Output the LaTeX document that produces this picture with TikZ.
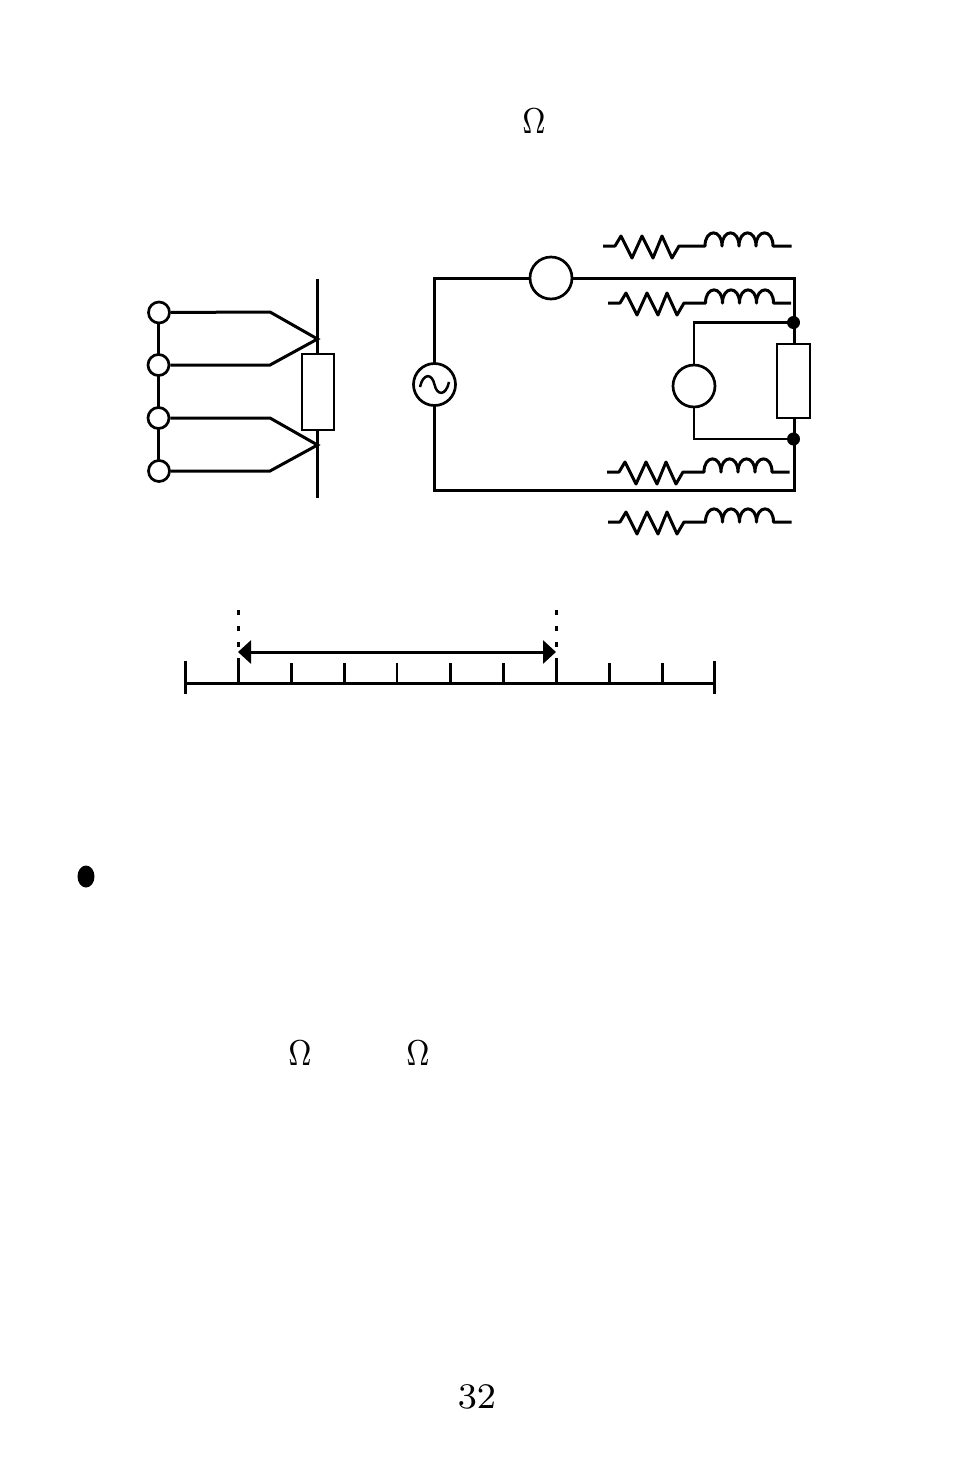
\documentclass[tikz,border=0pt]{standalone}
\usepackage{graphicx}
\usetikzlibrary{arrows.meta}
\font\lblfont=cmr8 at 18pt
\tikzset{
  x=0.5pt,y=-0.5pt,
  wire/.style={line width=1.5pt,line cap=butt,line join=miter,color=black},
  thinwire/.style={line width=1.25pt,color=black},
  term/.style={circle,draw=black,fill=white,line width=1.35pt,minimum size=10.5pt,inner sep=0pt},
  meter/.style={circle,draw=black,fill=white,line width=1.35pt,minimum size=21pt,inner sep=0pt},
  box/.style={rectangle,draw=black,fill=white,line width=1.35pt,inner sep=0pt},
  jdot/.style={circle,fill=black,minimum size=6.5pt,inner sep=0pt},
  label/.style={inner sep=0pt,font=\lblfont},
}
\newcommand{\omegaglyph}{\scalebox{.84}[1]{\char10}}
% #1 x of start, #2 y, #3 x where the coil begins, #4 x of free end
\newcommand{\rlcoil}[4]{%
  \draw[wire,line join=round,shift={(#1,#2)}] (0,0) -- (12,0) -- (18,-10) -- (29,12) -- (39,-10) -- (50,12) -- (59,-10) -- (69,12) -- (76,0) -- (#3,0)
    .. controls +(0,-17.5) and +(0,-17.5) .. ++(17,0)
    .. controls +(0,-17.5) and +(0,-17.5) .. ++(17,0)
    .. controls +(0,-17.5) and +(0,-17.5) .. ++(17,0)
    .. controls +(0,-17.5) and +(0,-17.5) .. ++(17,0) -- (#4,0);}
\begin{document}
\begin{tikzpicture}
\useasboundingbox (0,0) rectangle (954,1484);
% texts
\node[label] (om1) at (534,121) {\omegaglyph};
\node[label] (om2) at (300,1053) {\omegaglyph};
\node[label] (om3) at (418,1053) {\omegaglyph};
\node[label] (pg) at (477,1397) {32};
\fill (86,876.5) ellipse [x radius=8.5,y radius=11];
% left figure
\coordinate (a1) at (270,312);
\coordinate (a2) at (270,365);
\coordinate (a3) at (270,418);
\coordinate (a4) at (270,471);
\coordinate (p1) at (317.5,339);
\coordinate (p2) at (317.5,445);
\coordinate (bt) at (317.5,279);
\coordinate (bb) at (317.5,498);
\draw[wire] (158.5,312) -- (158.5,471);
\node[term] (t1) at (159,312.5) {};
\node[term] (t2) at (158.5,365) {};
\node[term] (t3) at (158.5,418) {};
\node[term] (t4) at (159,471) {};
\draw[wire] (t1) -- (a1) -- (p1) -- (a2) -- (t2);
\draw[wire] (t3) -- (a3) -- (p2) -- (a4) -- (t4);
\draw[wire] (bt) -- (bb);
\node[box,minimum width=16pt,minimum height=38pt] (r1) at (318,392) {};
% circuit
\coordinate (c1) at (434.5,278);
\coordinate (c2) at (794.5,278);
\coordinate (c3) at (794.5,490);
\coordinate (c4) at (434.5,490);
\draw[wire] (c1) -- (c2) -- (c3) -- (c4) -- cycle;
\node[meter] (ac) at (434.5,384.5) {};
\draw[wire,line width=1.25pt] (420,387) .. controls (423,373) and (432,373) .. (434.5,384.5) .. controls (437,396) and (446,396) .. (449,382);
\node[meter] (m1) at (551,278) {};
\coordinate (j1) at (793.5,322.5);
\coordinate (j2) at (793.5,439);
\coordinate (v1) at (694,322.5);
\coordinate (v2) at (694,439);
\node[meter] (m2) at (694,386) {};
\draw[thinwire] (m2) -- (v1) -- (j1);
\draw[thinwire] (m2) -- (v2) -- (j2);
\node[box,minimum width=16.5pt,minimum height=37pt] (r2) at (793.5,381) {};
\node[jdot] at (j1) {};
\node[jdot] at (j2) {};
\rlcoil{603}{246}{102}{188.5}
\rlcoil{608}{303}{97.5}{183}
\rlcoil{607}{472}{97}{182.5}
\rlcoil{608}{522}{97.5}{183.5}
% ruler
\coordinate (s0) at (185.5,683.5);
\coordinate (s10) at (714.5,683.5);
\draw[wire] (s0) -- (s10);
\draw[wire] (185.5,661) -- (185.5,694);
\draw[wire] (714.5,661) -- (714.5,694);
\foreach \x in {238.5,556}{\draw[wire] (\x,658) -- (\x,683.5);}
\foreach \x in {291.5,344.5,450,503,609,662}{\draw[wire] (\x,663) -- (\x,683.5);}
\draw[thinwire,line width=1pt] (397,663) -- (397,683.5);
\foreach \x in {238.5,556}{\draw[wire,dash pattern=on 2.5pt off 5.5pt] (\x,610) -- (\x,648);}
\coordinate (e1) at (238,652);
\coordinate (e2) at (556,652);
\draw[wire,{Triangle[length=6.5pt,width=11.5pt]}-{Triangle[length=6.5pt,width=11.5pt]}] (e1) -- (e2);
\end{tikzpicture}
\end{document}
